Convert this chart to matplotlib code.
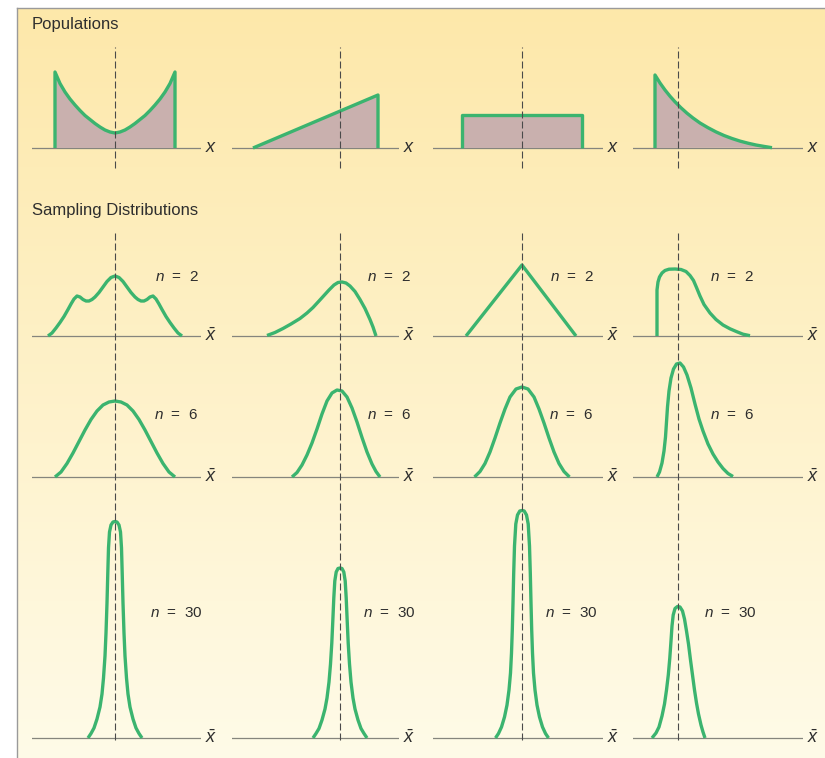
import numpy as np
import matplotlib
matplotlib.use("Agg")
import matplotlib.pyplot as plt

plt.rcParams.update({
    "font.family": "Liberation Sans",
    "mathtext.fontset": "custom",
    "mathtext.it": "Liberation Sans:italic",
    "mathtext.rm": "Liberation Sans",
})

# ---- shapes, x = offset from the mean, y = height (units of 10 px) ----
# populations
u_pop_x = [-6.0, -6.0, -5.5, -5.0, -4.5, -4.0, -3.5, -3.0, -2.5, -2.0, -1.5, -1.0, -0.5, 0.0,
           0.5, 1.0, 1.5, 2.0, 2.5, 3.0, 3.5, 4.0, 4.5, 5.0, 5.5, 6.0, 6.0]
u_pop_y = [0, 7.6, 6.45, 5.6, 4.9, 4.3, 3.75, 3.25, 2.85, 2.45, 2.1, 1.8, 1.6, 1.5,
           1.6, 1.8, 2.1, 2.45, 2.85, 3.25, 3.75, 4.3, 4.9, 5.6, 6.45, 7.6, 0]
lin_pop_x = [-8.7, 3.8, 3.8]
lin_pop_y = [0, 5.3, 0]
uni_pop_x = [-6.0, -6.0, 6.0, 6.0]
uni_pop_y = [0, 3.3, 3.3, 0]
exp_pop_x = [-2.3, -2.3, -1.8, -1.3, -0.8, -0.3, 0.3, 0.9, 1.5, 2.2, 3.0, 3.8, 4.6, 5.4,
             6.2, 7.0, 7.8, 8.6, 9.4]
exp_pop_y = [0, 7.3, 6.5, 5.8, 5.18, 4.62, 4.02, 3.48, 3.0, 2.5, 2.03, 1.61, 1.25, 0.95,
             0.69, 0.48, 0.3, 0.16, 0.03]

# sampling distributions, n = 2
u2_x = [-6.7, -6.3, -5.9, -5.5, -5.1, -4.7, -4.4, -4.1, -3.8, -3.5, -3.2, -2.9, -2.6, -2.3,
        -2.0, -1.6, -1.2, -0.8, -0.4, 0.0, 0.4, 0.8, 1.2, 1.6, 2.0, 2.3, 2.6, 2.9, 3.2,
        3.5, 3.8, 4.1, 4.4, 4.7, 5.1, 5.5, 5.9, 6.3, 6.7]
u2_y = [0, 0.3, 0.8, 1.35, 1.95, 2.65, 3.2, 3.7, 4.0, 3.9, 3.65, 3.5, 3.5, 3.65,
        3.9, 4.35, 4.9, 5.45, 5.85, 6.0, 5.85, 5.45, 4.9, 4.35, 3.9, 3.65, 3.5, 3.5, 3.65,
        3.9, 4.0, 3.7, 3.2, 2.65, 1.95, 1.35, 0.8, 0.3, 0]
lin2_x = [-7.3, -6.5, -5.7, -4.9, -4.0, -3.3, -2.7, -2.1, -1.6, -1.1, -0.6, -0.2, 0.2, 0.6,
          1.0, 1.5, 2.0, 2.5, 3.0, 3.3, 3.6]
lin2_y = [0.05, 0.35, 0.75, 1.2, 1.75, 2.3, 2.85, 3.5, 4.05, 4.6, 5.1, 5.35, 5.4, 5.3,
          5.0, 4.45, 3.65, 2.75, 1.65, 0.9, 0]
uni2_x = [-5.6, 0.0, 5.4]
uni2_y = [0, 7.1, 0]
exp2_x = [-2.1, -2.1, -2.0, -1.85, -1.6, -1.3, -0.9, -0.3, 0.3, 0.8, 1.2, 1.55, 1.85, 2.2,
          2.6, 3.2, 3.8, 4.5, 5.2, 5.9, 6.5, 7.2]
exp2_y = [0, 4.6, 5.4, 5.9, 6.3, 6.55, 6.68, 6.7, 6.65, 6.45, 6.05, 5.55, 4.85, 4.0,
          3.15, 2.3, 1.65, 1.1, 0.72, 0.42, 0.18, 0.03]

# n = 6
u6_x = [-6.0, -5.4, -4.8, -4.2, -3.6, -3.0, -2.4, -1.8, -1.2, -0.6, 0.0,
        0.6, 1.2, 1.8, 2.4, 3.0, 3.6, 4.2, 4.8, 5.4, 6.0]
u6_y = [0, 0.5, 1.35, 2.4, 3.55, 4.7, 5.75, 6.6, 7.2, 7.5, 7.6,
        7.5, 7.2, 6.6, 5.75, 4.7, 3.55, 2.4, 1.35, 0.5, 0]
lin6_x = [-4.8, -4.3, -3.8, -3.3, -2.8, -2.3, -1.8, -1.3, -0.8, -0.3, 0.2, 0.7, 1.2, 1.7,
          2.2, 2.7, 3.2, 3.6, 4.0]
lin6_y = [0, 0.45, 1.2, 2.2, 3.4, 4.8, 6.3, 7.6, 8.4, 8.7, 8.6, 8.0, 6.9, 5.5,
          3.95, 2.5, 1.3, 0.55, 0]
uni6_x = [-4.75, -4.2, -3.7, -3.2, -2.7, -2.2, -1.7, -1.2, -0.6, 0.0,
          0.6, 1.2, 1.7, 2.2, 2.7, 3.2, 3.7, 4.2, 4.75]
uni6_y = [0, 0.55, 1.35, 2.5, 3.9, 5.4, 6.8, 8.0, 8.8, 9.0,
          8.8, 8.0, 6.8, 5.4, 3.9, 2.5, 1.35, 0.55, 0]
exp6_x = [-2.1, -1.85, -1.6, -1.4, -1.25, -1.15, -1.05, -0.9, -0.7, -0.45, -0.15, 0.2, 0.55,
          0.9, 1.3, 1.7, 2.1, 2.5, 3.0, 3.5, 4.0, 4.5, 5.0, 5.5]
exp6_y = [0, 0.5, 1.4, 2.6, 4.0, 5.5, 7.0, 8.6, 9.9, 10.8, 11.3, 11.4, 11.0,
          10.2, 8.9, 7.3, 5.8, 4.6, 3.3, 2.3, 1.5, 0.85, 0.35, 0.05]

# n = 30
u30_x = [-2.7, -2.4, -2.1, -1.8, -1.5, -1.3, -1.15, -1.0, -0.9, -0.8, -0.72, -0.65, -0.55,
         -0.4, -0.2, 0.0, 0.2, 0.4, 0.55, 0.65, 0.72, 0.8, 0.9, 1.0, 1.15, 1.3, 1.5, 1.8,
         2.1, 2.4, 2.7]
u30_y = [0, 0.45, 1.0, 1.9, 3.1, 4.4, 6.0, 8.2, 10.5, 13.5, 16.5, 19.0, 20.6,
         21.3, 21.6, 21.65, 21.6, 21.3, 20.6, 19.0, 16.5, 13.5, 10.5, 8.2, 6.0, 4.4, 3.1, 1.9,
         1.0, 0.45, 0]
lin30_x = [-2.7, -2.4, -2.1, -1.8, -1.5, -1.3, -1.1, -0.95, -0.82, -0.72, -0.62, -0.52, -0.38,
           -0.2, 0.0, 0.2, 0.38, 0.52, 0.62, 0.72, 0.82, 0.95, 1.1, 1.3, 1.5, 1.8, 2.1, 2.4, 2.7]
lin30_y = [0, 0.45, 0.95, 1.8, 2.9, 4.0, 5.6, 7.4, 9.5, 11.7, 14.0, 15.7, 16.6,
           16.95, 17.0, 16.95, 16.6, 15.7, 14.0, 11.7, 9.5, 7.4, 5.6, 4.0, 2.9, 1.8, 0.95, 0.45, 0]
uni30_x = [-2.65, -2.35, -2.05, -1.75, -1.5, -1.3, -1.15, -1.05, -0.97, -0.9, -0.83, -0.75,
           -0.62, -0.45, -0.22, 0.0, 0.22, 0.45, 0.62, 0.75, 0.83, 0.9, 0.97, 1.05, 1.15, 1.3,
           1.5, 1.75, 2.05, 2.35, 2.65]
uni30_y = [0, 0.45, 1.1, 2.1, 3.3, 4.8, 6.5, 8.5, 10.8, 13.5, 16.5, 19.2,
           21.4, 22.3, 22.7, 22.75, 22.7, 22.3, 21.4, 19.2, 16.5, 13.5, 10.8, 8.5, 6.5, 4.8,
           3.3, 2.1, 1.1, 0.45, 0]
exp30_x = [-2.6, -2.2, -1.9, -1.6, -1.35, -1.15, -0.97, -0.82, -0.7, -0.6, -0.48, -0.3, -0.05,
           0.2, 0.45, 0.65, 0.85, 1.05, 1.25, 1.45, 1.65, 1.85, 2.05, 2.3, 2.5, 2.7]
exp30_y = [0, 0.5, 1.1, 2.2, 3.4, 4.8, 6.3, 8.0, 9.7, 11.2, 12.3, 12.95, 13.15,
           13.1, 12.7, 11.9, 10.7, 9.4, 7.8, 6.3, 4.8, 3.5, 2.4, 1.3, 0.6, 0]

sample_sizes = [2, 6, 30]
populations = [(u_pop_x, u_pop_y), (lin_pop_x, lin_pop_y), (uni_pop_x, uni_pop_y), (exp_pop_x, exp_pop_y)]
sampling = [
    [(u2_x, u2_y), (lin2_x, lin2_y), (uni2_x, uni2_y), (exp2_x, exp2_y)],
    [(u6_x, u6_y), (lin6_x, lin6_y), (uni6_x, uni6_y), (exp6_x, exp6_y)],
    [(u30_x, u30_y), (lin30_x, lin30_y), (uni30_x, uni30_y), (exp30_x, exp30_y)],
]

# ---- layout (pixels) ----
W, H = 825, 758
col_left = [32, 232, 433, 633]
col_right = [201, 399, 603, 803]
col_mean = [115, 340, 522, 678]
# (top, bottom, baseline, dash top, dash bottom)
pop_row = (40, 175, 148, 47, 168)
samp_rows = [(225, 350, 336, 233, 350), (350, 490, 477, 350, 490), (490, 748, 738, 490, 740)]
label_dx = [[4.0, 2.7, 2.8, 3.2], [3.9, 2.7, 2.7, 3.2], [3.5, 2.3, 2.3, 2.6]]
label_y = [5.9, 6.2, 12.5]

GREEN = "#3BB46F"
FILL = "#C9B0AE"
TEXT = "#2e2e2e"
AXIS = "#85857d"
DASH = "#4a4a4a"

fig = plt.figure(figsize=(W / 100, H / 100), dpi=100)
fig.patch.set_facecolor("white")


def px_axes(left, top, right, bottom):
    return fig.add_axes([left / W, 1 - bottom / H, (right - left) / W, (bottom - top) / H])


# background panel with a soft vertical gradient
bg = px_axes(17, 8, W + 2, H + 2)
t = np.linspace(0, 1, 256)[:, None]
c_top = np.array([253, 232, 170]) / 255
c_bot = np.array([255, 251, 232]) / 255
grad = (c_top * (1 - t) + c_bot * t).reshape(256, 1, 3)
bg.imshow(grad, aspect="auto", extent=[0, 1, 0, 1], interpolation="bilinear")
bg.set_xticks([])
bg.set_yticks([])
for side in ["right", "bottom"]:
    bg.spines[side].set_visible(False)
for side in ["left", "top"]:
    bg.spines[side].set_color("#9a9a9a")
    bg.spines[side].set_linewidth(1.0)

fig.text(32 / W, 1 - 25 / H, "Populations", fontsize=12, color=TEXT, va="center", ha="left")
fig.text(32 / W, 1 - 210 / H, "Sampling Distributions", fontsize=12, color=TEXT,
         va="center", ha="left")


def panel(c, row, xs, ys, filled, xlabel):
    top, bottom, base, d_top, d_bot = row
    ax = px_axes(col_left[c], top, col_right[c], bottom)
    ax.set_xlim((col_left[c] - col_mean[c]) / 10, (col_right[c] - col_mean[c]) / 10)
    ax.set_ylim((base - bottom) / 10, (base - top) / 10)
    ax.axis("off")
    ax.patch.set_alpha(0)
    ax.axhline(0, color=AXIS, lw=0.9, zorder=1)
    if filled:
        ax.fill(xs, ys, color=FILL, lw=0, zorder=2)
    ax.plot(xs, ys, color=GREEN, lw=2.4, solid_capstyle="butt", solid_joinstyle="round",
            zorder=3, clip_on=False)
    ax.vlines(0, (base - d_bot) / 10, (base - d_top) / 10, colors=DASH, lw=0.8,
              linestyles=(0, (6.3, 2.7)), zorder=4, clip_on=False)
    ax.text(1 + 10 / 170, 0, xlabel, transform=ax.get_yaxis_transform(), fontsize=13,
            color=TEXT, ha="center", va="center", clip_on=False)
    return ax


for c, (xs, ys) in enumerate(populations):
    ax = panel(c, pop_row, xs, ys, True, r"$x$")

for r, n in enumerate(sample_sizes):
    for c, (xs, ys) in enumerate(sampling[r]):
        ax = panel(c, samp_rows[r], xs, ys, False, r"$\bar{x}$")
        ax.text(label_dx[r][c], label_y[r], r"$n$  =  %d" % n, fontsize=11, color=TEXT,
                ha="left", va="center")

fig.savefig("out.png", dpi=100)
